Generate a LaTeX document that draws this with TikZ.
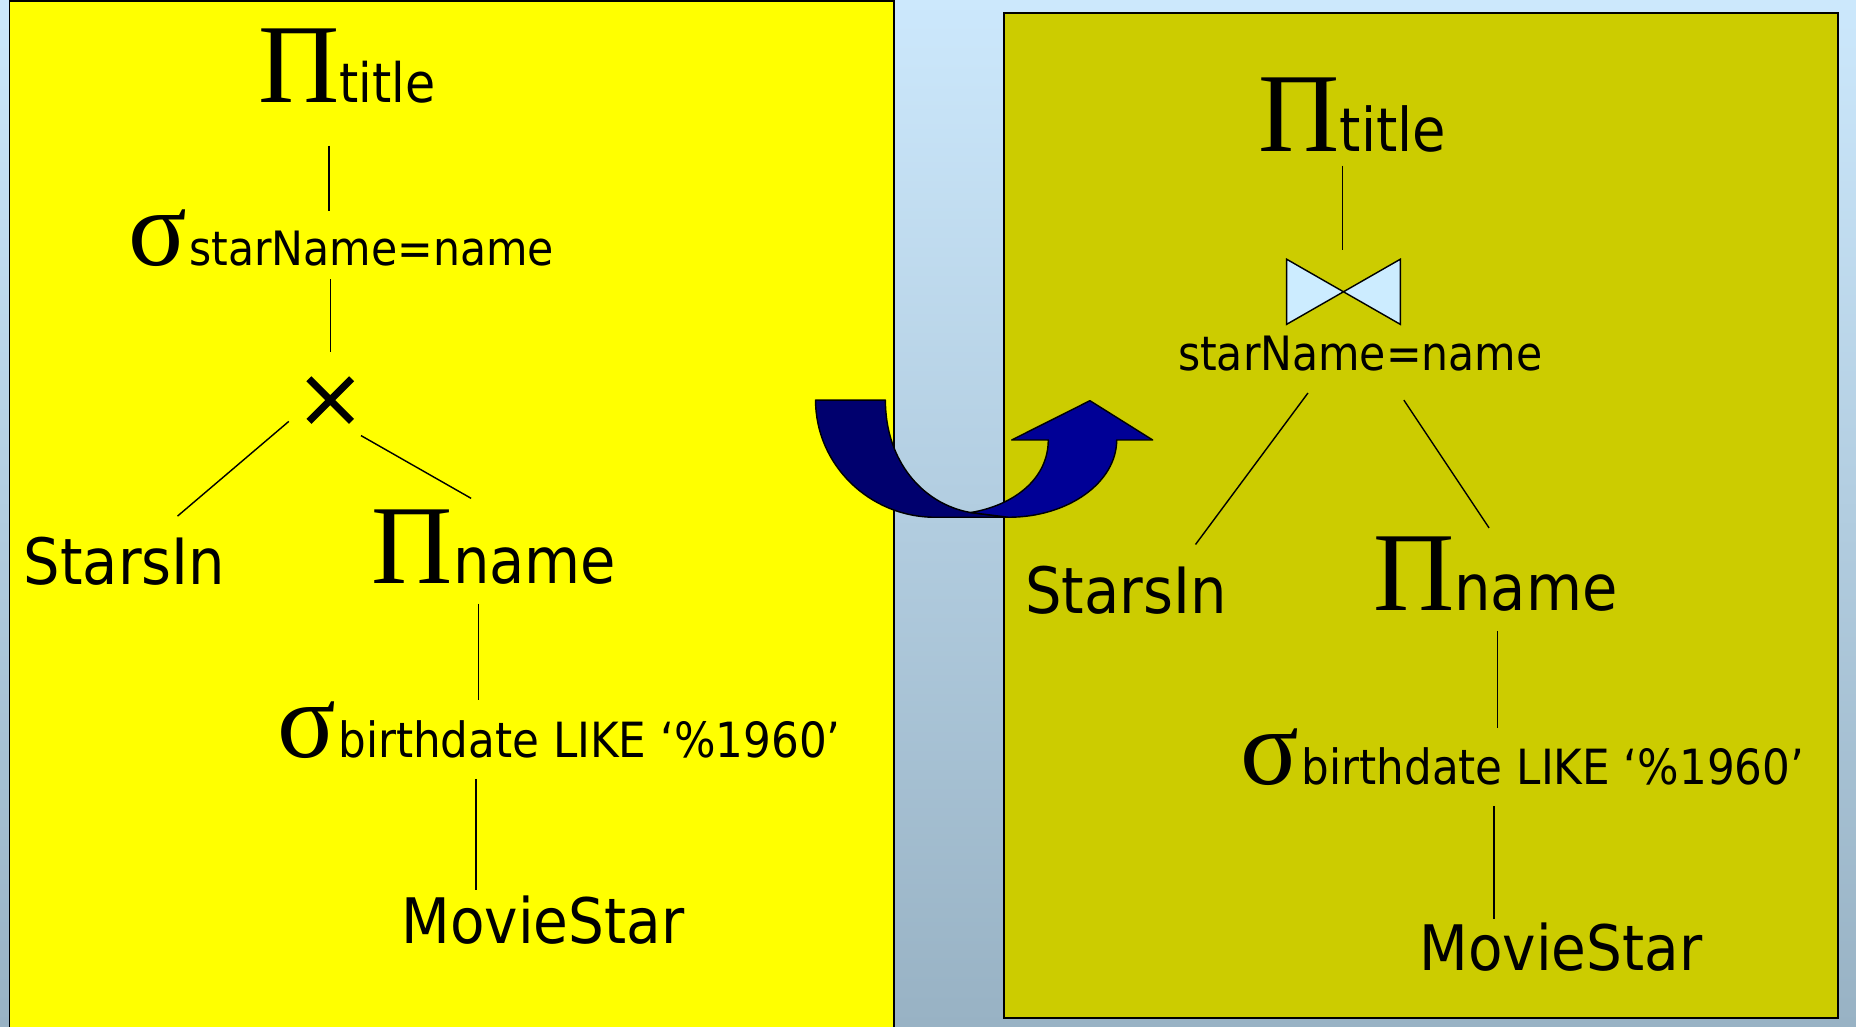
\documentclass[tikz,border=0pt]{standalone}
\usepackage{fontspec}
\setmainfont{DejaVu Sans Condensed}
\newfontfamily\grk{Liberation Serif}
\usetikzlibrary{calc}
\definecolor{bgtop}{RGB}{204,232,252}
\definecolor{bgbot}{RGB}{152,178,196}
\definecolor{lbox}{RGB}{255,255,0}
\definecolor{rbox}{RGB}{204,204,0}
\definecolor{navyA}{RGB}{0,0,110}
\definecolor{navyB}{RGB}{0,0,150}
\definecolor{bowfill}{RGB}{204,236,255}
\newcommand{\bigPi}{{\grk\fontsize{95}{100}\selectfont Π}}
\newcommand{\bigSig}{{\grk\fontsize{92}{96}\selectfont σ}}
\newcommand{\subf}{\fontsize{40}{45}\selectfont}
\newcommand{\subg}{\fontsize{41}{45}\selectfont}
\newcommand{\mainf}{\fontsize{54}{60}\selectfont}
\begin{document}
\begin{tikzpicture}[x=1pt,y=-1pt,
  lbl/.style={anchor=base west,inner sep=0pt,font=\mainf},
  op/.style={anchor=base west,inner sep=0pt},
  edge/.style={line width=1.2pt},
  arrowpart/.style={line width=1.2pt,line join=round,draw=black}]
\useasboundingbox (0,0) rectangle (1568,867);
\shade[top color=bgtop,bottom color=bgbot] (0,0) rectangle (1568,867);
\draw[fill=lbox,line width=1.5pt] (8,1) rectangle (755,880);
\draw[fill=rbox,line width=1.5pt] (848,11) rectangle (1553,860);

% ---------- left tree ----------
\node[op] (ptL) at (218,87) {\bigPi{\fontsize{46}{50}\selectfont title}};
\node[op] (sgL) at (108,224) {\bigSig{\subf\kern2pt starName=name}};
\node[inner sep=0pt,minimum size=40pt] (crL) at (279,338) {};
\draw[line width=6pt] ($(crL)+(-18,-18)$) -- ($(crL)+(18,18)$)
                      ($(crL)+(18,-18)$) -- ($(crL)+(-18,18)$);
\node[lbl] (siL) at (20,494) {StarsIn};
\node[op] (pnL) at (314,493) {\bigPi{\mainf name}};
\node[op] (sbL) at (234,640) {\bigSig{\subg\kern2pt birthdate LIKE ‘\%1960’}};
\node[lbl] (msL) at (339,797) {\fontsize{53}{58}\selectfont MovieStar};

\coordinate (ptLb) at (278,123); \coordinate (sgLt) at (278,178);
\coordinate (sgLb) at (279,236); \coordinate (crLt) at (279,297);
\coordinate (crLl) at (244,356); \coordinate (siLt) at (150,436);
\coordinate (crLr) at (305,368); \coordinate (pnLt) at (398,421);
\coordinate (pnLb) at (404,510); \coordinate (sbLt) at (404,591);
\coordinate (sbLb) at (402,658); \coordinate (msLt) at (402,752);
\draw[edge] (ptLb) -- (sgLt);
\draw[edge] (sgLb) -- (crLt);
\draw[edge] (crLl) -- (siLt);
\draw[edge] (crLr) -- (pnLt);
\draw[edge] (pnLb) -- (sbLt);
\draw[edge] (sbLb) -- (msLt);

% ---------- right tree ----------
\node[op] (ptR) at (1063,128) {\bigPi{\fontsize{51}{55}\selectfont title}};
\coordinate (bow) at (1135,246.5);
\draw[fill=bowfill,line width=1.2pt,line join=miter]
  ($(bow)+(-48,-27.5)$) -- ($(bow)+(-48,27.5)$) -- ($(bow)+(48,-27.5)$) -- ($(bow)+(48,27.5)$) -- cycle;
\node[op] (jnR) at (995,313) {\subf starName=name};
\node[lbl] (siR) at (866,518) {StarsIn};
\node[op] (pnR) at (1160,516) {\bigPi{\mainf name}};
\node[op] (sbR) at (1048,663) {\bigSig{\subg\kern2pt birthdate LIKE ‘\%1960’}};
\node[lbl] (msR) at (1199,820) {\fontsize{53}{58}\selectfont MovieStar};

\coordinate (ptRb) at (1134,140); \coordinate (bowt) at (1134,211);
\coordinate (jnRl) at (1105,332); \coordinate (siRt) at (1010,460);
\coordinate (jnRr) at (1186,338); \coordinate (pnRt) at (1258,446);
\coordinate (pnRb) at (1265,533); \coordinate (sbRt) at (1265,615);
\coordinate (sbRb) at (1262,681); \coordinate (msRt) at (1262,776);
\draw[edge] (ptRb) -- (bowt);
\draw[edge] (jnRl) -- (siRt);
\draw[edge] (jnRr) -- (pnRt);
\draw[edge] (pnRb) -- (sbRt);
\draw[edge] (sbRb) -- (msRt);

% ---------- transformation arrow ----------
\draw[arrowpart,fill=navyA] (689,338) -- (748,338)
  .. controls (748,390) and (780,426) .. (820,433) -- (852,437) -- (790,437)
  .. controls (734.5,437) and (689,392.5) .. (689,338) -- cycle;
\draw[arrowpart,fill=navyB] (820,433)
  .. controls (856,427) and (885.6,405) .. (885.6,371.7)
  -- (854.7,371.7) -- (920.8,338.5) -- (973.8,371.7) -- (943.4,371.7)
  .. controls (943.4,407.5) and (902.5,437) .. (852,437) -- (820,433) -- cycle;
\end{tikzpicture}
\end{document}
